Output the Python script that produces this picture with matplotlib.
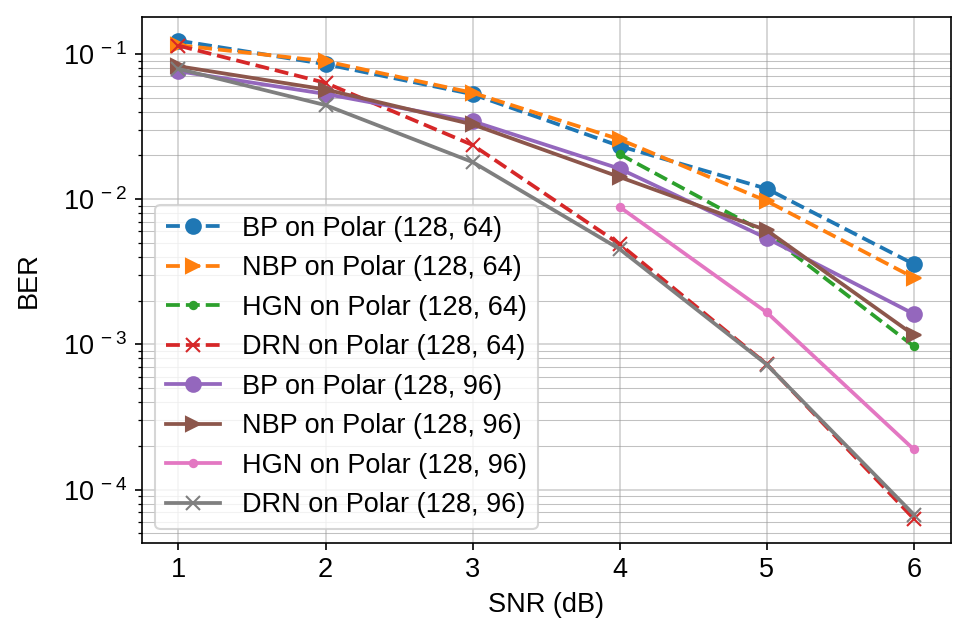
import matplotlib
matplotlib.use("Agg")
import matplotlib.pyplot as plt
from matplotlib.ticker import FuncFormatter, LogLocator
import numpy as np

plt.rcParams['font.family'] = ['Liberation Sans', 'DejaVu Sans']
plt.rcParams['mathtext.fontset'] = 'custom'
plt.rcParams['mathtext.rm'] = 'Liberation Sans'
plt.rcParams['mathtext.it'] = 'Liberation Sans:italic'
plt.rcParams['font.size'] = 13

snr = [1, 2, 3, 4, 5, 6]
snr_hgn = [4, 5, 6]

bp_64 = [0.1235, 0.085, 0.0528, 0.0232, 0.0118, 0.00357]
nbp_64 = [0.115, 0.089, 0.054, 0.0258, 0.0097, 0.00288]
hgn_64 = [0.0204, 0.0058, 0.00097]
drn_64 = [0.114, 0.0632, 0.0236, 0.0049, 0.00073, 0.000063]
bp_96 = [0.076, 0.053, 0.0344, 0.0162, 0.00538, 0.00162]
nbp_96 = [0.0823, 0.0569, 0.0327, 0.0142, 0.0061, 0.00116]
hgn_96 = [0.00883, 0.00166, 0.000189]
drn_96 = [0.0789, 0.0444, 0.018, 0.00453, 0.000726, 0.0000673]

labels = ["BP on Polar (128, 64)", "NBP on Polar (128, 64)",
          "HGN on Polar (128, 64)", "DRN on Polar (128, 64)",
          "BP on Polar (128, 96)", "NBP on Polar (128, 96)",
          "HGN on Polar (128, 96)", "DRN on Polar (128, 96)"]

fig = plt.figure(figsize=(968/150, 643/150), dpi=150)
ax = fig.add_axes([0.1464, 0.156, 0.8357, 0.818])

ms = 7
lw = 1.8
ax.plot(snr, bp_64, 'o--', color='C0', ms=ms, lw=lw, label=labels[0])
ax.plot(snr, nbp_64, '>--', color='C1', ms=ms, lw=lw, label=labels[1])
ax.plot(snr_hgn, hgn_64, '.--', color='C2', ms=ms, lw=lw, label=labels[2])
ax.plot(snr, drn_64, 'x--', color='C3', ms=ms, lw=lw, label=labels[3])
ax.plot(snr, bp_96, 'o-', color='C4', ms=ms, lw=lw, label=labels[4])
ax.plot(snr, nbp_96, '>-', color='C5', ms=ms, lw=lw, label=labels[5])
ax.plot(snr_hgn, hgn_96, '.-', color='C6', ms=ms, lw=lw, label=labels[6])
ax.plot(snr, drn_96, 'x-', color='C7', ms=ms, lw=lw, label=labels[7])

ax.set_yscale('log')


def sci(v, pos):
    k = int(round(np.log10(v)))
    return r'$\mathdefault{10^{\;%d}}$' % k if k >= 0 else r'$\mathdefault{10^{\;-%d}}$' % (-k)


ax.yaxis.set_major_locator(LogLocator(base=10))
ax.yaxis.set_major_formatter(FuncFormatter(sci))
ax.set_xlabel('SNR (dB)')
ax.set_ylabel('BER', labelpad=10)
ax.grid(True, which='major', color='#b0b0b0', lw=0.8, alpha=0.6)
ax.grid(True, which='minor', axis='y', color='#999999', lw=0.5, alpha=0.6)
ax.legend(loc='lower left')

fig.savefig('out.png', dpi=150)
